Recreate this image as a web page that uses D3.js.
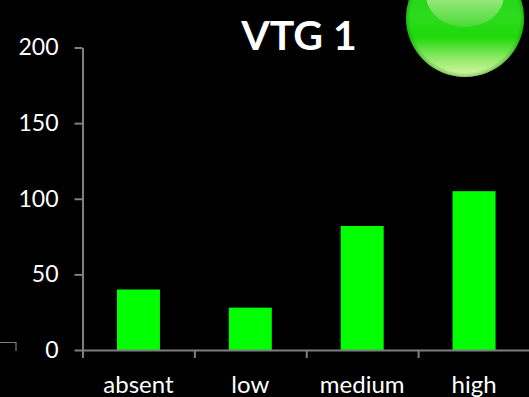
<!DOCTYPE html>
<html>
<head>
<meta charset="utf-8">
<script src="https://cdn.jsdelivr.net/npm/d3@7"></script>
<style>
  html, body { margin: 0; padding: 0; background: #000; overflow: hidden; }
  text { font-family: Lato, "Open Sans", sans-serif; fill: #fff; }
</style>
</head>
<body>
<div id="chart"></div>
<script>
var categories = ["absent", "low", "medium", "high"];
var values = [40, 28, 82, 105];
var yTicks = [0, 50, 100, 150, 200];
var chartTitle = "VTG 1";

var width = 529, height = 397;
var margin = { top: 47.5, right: -1, bottom: 47, left: 82.5 };

var svg = d3.select("#chart").append("svg")
  .attr("width", width)
  .attr("height", height)
  .style("display", "block");

var defs = svg.append("defs");

// glossy ball, body first then the two highlights
var body = defs.append("linearGradient").attr("id", "ballBody")
  .attr("x1", 0).attr("y1", 0).attr("x2", 0).attr("y2", 1);
body.append("stop").attr("offset", "0%").attr("stop-color", "#1cc81c");
body.append("stop").attr("offset", "50%").attr("stop-color", "#2cdc1c");
body.append("stop").attr("offset", "66%").attr("stop-color", "#1ed80a");
body.append("stop").attr("offset", "84%").attr("stop-color", "#8eea66");
body.append("stop").attr("offset", "100%").attr("stop-color", "#e0f8a8");

var rim = defs.append("radialGradient").attr("id", "ballRim");
rim.append("stop").attr("offset", "92%").attr("stop-color", "#1a9a10").attr("stop-opacity", 0);
rim.append("stop").attr("offset", "100%").attr("stop-color", "#127a0a").attr("stop-opacity", 0.4);

var gloss = defs.append("linearGradient").attr("id", "ballGloss")
  .attr("x1", 0).attr("y1", 0).attr("x2", 0).attr("y2", 1);
gloss.append("stop").attr("offset", "40%").attr("stop-color", "#b4ee94");
gloss.append("stop").attr("offset", "100%").attr("stop-color", "#4ada38");

var ball = svg.append("g");
ball.append("circle").attr("cx", 465).attr("cy", 18).attr("r", 59).attr("fill", "url(#ballBody)");
ball.append("circle").attr("cx", 465).attr("cy", 18).attr("r", 59).attr("fill", "url(#ballRim)");
ball.append("ellipse").attr("cx", 465).attr("cy", -5).attr("rx", 39).attr("ry", 32).attr("fill", "url(#ballGloss)");

var x = d3.scaleBand()
  .domain(categories)
  .range([margin.left, 530])
  .paddingInner(0)
  .paddingOuter(0);

var y = d3.scaleLinear()
  .domain([0, 200])
  .range([height - margin.bottom, margin.top]);

var barWidth = 43;

svg.selectAll("rect.bar")
  .data(values)
  .enter()
  .append("rect")
  .attr("class", "bar")
  .attr("x", function (d, i) { return x(categories[i]) + x.bandwidth() / 2 - barWidth / 2; })
  .attr("y", function (d) { return y(d); })
  .attr("width", barWidth)
  .attr("height", function (d) { return y(0) - y(d); })
  .attr("fill", "#00ff00");

var yAxis = d3.axisLeft(y).tickValues(yTicks).tickSize(8).tickPadding(16).tickSizeOuter(0);
var gy = svg.append("g")
  .attr("transform", "translate(" + margin.left + ",0)")
  .call(yAxis);

var xTickAxis = d3.axisBottom(d3.scaleLinear().domain([0, 4]).range([margin.left, 530]))
  .ticks(4).tickSize(8).tickSizeOuter(0).tickFormat("");
var gx = svg.append("g")
  .attr("transform", "translate(0," + y(0) + ")")
  .call(xTickAxis);

svg.selectAll(".domain, .tick line")
  .attr("stroke", "#7f7f7f")
  .attr("stroke-width", 2);

gy.selectAll("text")
  .attr("fill", "#fff")
  .style("font-size", "23px");

svg.selectAll("text.cat")
  .data(categories)
  .enter()
  .append("text")
  .attr("class", "cat")
  .attr("x", function (d) { return x(d) + x.bandwidth() / 2; })
  .attr("y", 393)
  .attr("text-anchor", "middle")
  .style("font-size", "24px")
  .text(function (d) { return d; });

svg.append("text")
  .attr("x", 299)
  .attr("y", 50)
  .attr("text-anchor", "middle")
  .style("font-size", "41px")
  .style("font-weight", "700")
  .text(chartTitle);

// small corner mark left of the axis
svg.append("path")
  .attr("d", d3.line()([[0, 342.5], [16, 342.5], [16, 351]]))
  .attr("fill", "none")
  .attr("stroke", "#7f7f7f")
  .attr("stroke-width", 1.2);
</script>
</body>
</html>
